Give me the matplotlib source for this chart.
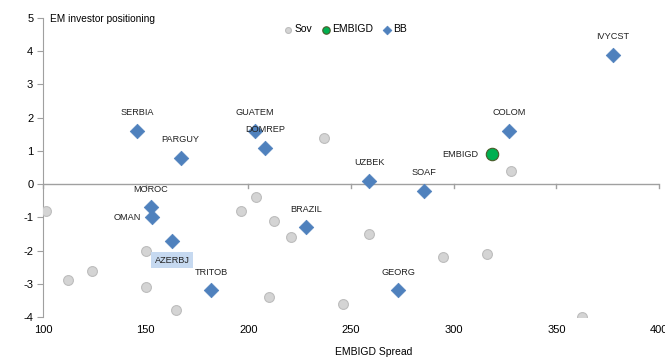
import matplotlib
matplotlib.use("Agg")
import matplotlib.pyplot as plt

plt.rcParams['font.family'] = ['Liberation Sans Narrow', 'Liberation Sans', 'DejaVu Sans']
plt.rcParams['axes.unicode_minus'] = False

# Sov universe (grey dots)
sov_x = [101.5, 112, 124, 150, 150, 165, 196.5, 203.5, 212.5, 221, 210, 237, 246, 259, 295, 316, 328, 362.5]
sov_y = [-0.8, -2.9, -2.6, -2.0, -3.1, -3.8, -0.8, -0.4, -1.1, -1.6, -3.4, 1.4, -3.6, -1.5, -2.2, -2.1, 0.4, -4.0]

# BB names
bb_names = ["SERBIA", "PARGUY", "GUATEM", "DOMREP", "MOROC", "OMAN", "AZERBJ", "TRITOB",
            "BRAZIL", "UZBEK", "SOAF", "GEORG", "COLOM", "IVYCST"]
bb_x = [146, 167, 203, 208, 152.6, 153, 163, 182, 228, 259, 285.5, 273, 327, 377.6]
bb_y = [1.6, 0.8, 1.6, 1.1, -0.7, -1.0, -1.7, -3.2, -1.3, 0.1, -0.2, -3.2, 1.6, 3.9]

# index
embi_x = [318.7]
embi_y = [0.9]

fig = plt.figure(figsize=(6.65, 3.6), dpi=100)
ax = fig.add_axes([0.0647, 0.1194, 0.9263, 0.8306])

ax.scatter(sov_x, sov_y, s=50, color="#d4d4d4", edgecolors="#bdbdbd", linewidths=0.8, label="Sov", zorder=3)
ax.scatter(embi_x, embi_y, s=80, color="#00b050", edgecolors="#4a5a2a", linewidths=0.8, label="EMBIGD", zorder=4)
ax.scatter(bb_x, bb_y, s=55, marker="D", color="#4f81bd", edgecolors="#4f81bd", linewidths=0.5, label="BB", zorder=4)

lab = dict(fontsize=6.6, color="#222222")
for name, x, y in zip(bb_names, bb_x, bb_y):
    if name == "OMAN":
        ax.annotate(name, (x, y), xytext=(-8, 0), textcoords="offset points",
                    ha="right", va="center", **lab)
    elif name == "AZERBJ":
        ax.annotate(name, (x, y), xytext=(0, -14), textcoords="offset points",
                    ha="center", va="center",
                    bbox=dict(boxstyle="square,pad=0.4", fc="#c6d9f0", ec="none"), **lab)
    else:
        ax.annotate(name, (x, y), xytext=(0, 13), textcoords="offset points",
                    ha="center", va="center", zorder=5, **lab)

ax.annotate("EMBIGD", (embi_x[0], embi_y[0]), xytext=(-10, 0), textcoords="offset points",
            ha="right", va="center", **lab)

ax.set_xlim(100, 400)
ax.set_ylim(-4, 5)
ax.set_xticks([100, 150, 200, 250, 300, 350, 400])
ax.set_yticks(range(-4, 6))

for s in ["top", "right", "bottom"]:
    ax.spines[s].set_visible(False)
ax.spines["left"].set_color("#a0a0a0")
ax.tick_params(axis="y", length=4, color="#a0a0a0", labelsize=8, pad=3)
ax.tick_params(axis="x", length=0, labelsize=8, pad=6)

# x axis line sits at y = 0
ax.axhline(0, color="#a0a0a0", lw=1, zorder=1)
for t in ax.get_xticks():
    ax.plot([t, t], [0, -0.12], color="#a0a0a0", lw=1, zorder=1, clip_on=False)

ax.set_xlabel("EMBIGD Spread", fontsize=7.5)
ax.xaxis.set_label_coords(0.536, -0.1)

ax.text(0.012, 0.995, "EM investor positioning", transform=ax.transAxes,
        fontsize=7.3, ha="left", va="center")

ax.legend(loc="upper center", bbox_to_anchor=(0.49, 1.0), ncol=3, frameon=False,
          fontsize=7.5, handletextpad=0.1, columnspacing=0.8, markerscale=0.6,
          handlelength=1.0, borderaxespad=0.2)

fig.savefig("out.png", dpi=100)
